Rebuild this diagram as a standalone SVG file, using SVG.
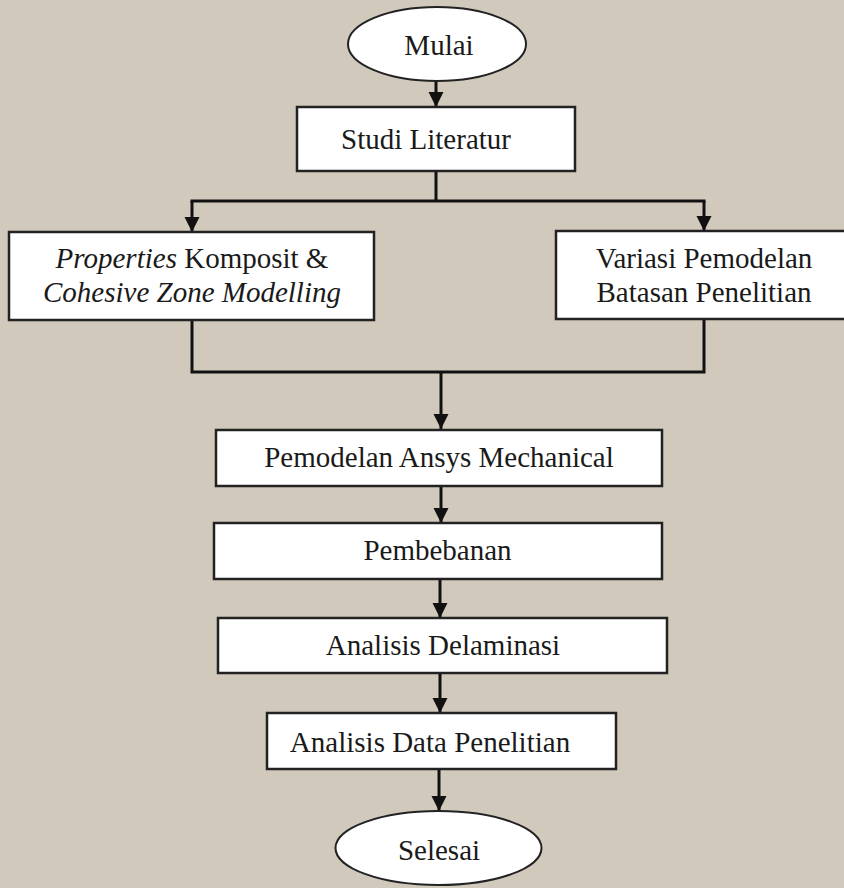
<svg xmlns="http://www.w3.org/2000/svg" width="844" height="888" viewBox="0 0 844 888">
  <defs>
    <marker id="arrow" markerUnits="userSpaceOnUse" markerWidth="16" markerHeight="16" refX="15" refY="7.5" orient="auto">
      <path d="M0,0 L15,7.5 L0,15 z" fill="#111"/>
    </marker>
    <style>
      .box { fill: #ffffff; stroke: #222; stroke-width: 2.5; }
      .term { fill: #ffffff; stroke: #222; stroke-width: 2; }
      .lbl { font-size: 29px; fill: #1a1a1a; text-anchor: middle; }
      .it { font-style: italic; }
      .wire { fill: none; stroke: #111; stroke-width: 3; }
      .arr { fill: none; stroke: #111; stroke-width: 3; marker-end: url(#arrow); }
    </style>
  </defs>

  <rect x="0" y="0" width="844" height="888" fill="#d1c9bc"/>

  <!-- connectors -->
  <g id="connectors">
    <path class="arr" d="M436,81 V107"/>
    <path class="wire" d="M436,171 V201"/>
    <path class="wire" d="M190.5,201 H705.5"/>
    <path class="arr" d="M192,201 V232"/>
    <path class="arr" d="M704,201 V231"/>
    <path class="wire" d="M192,320 V372 H704 V319"/>
    <path class="arr" d="M441,372 V429"/>
    <path class="arr" d="M441,486 V523"/>
    <path class="arr" d="M440,579 V618"/>
    <path class="arr" d="M440,673 V713"/>
    <path class="arr" d="M439,769 V811"/>
  </g>

  <g font-family="Liberation Serif, Times New Roman, serif">
    <g id="mulai">
      <ellipse class="term" cx="437" cy="44" rx="89" ry="37"/>
      <text class="lbl" x="439" y="55">Mulai</text>
    </g>

    <g id="studi-literatur">
      <rect class="box" x="297" y="107" width="278" height="64"/>
      <text class="lbl" x="426" y="149">Studi Literatur</text>
    </g>

    <g id="properties-komposit">
      <rect class="box" x="9" y="232" width="365" height="88"/>
      <text class="lbl" x="192" y="268"><tspan class="it">Properties</tspan> Komposit &amp;</text>
      <text class="lbl it" x="192" y="302">Cohesive Zone Modelling</text>
    </g>

    <g id="variasi-pemodelan">
      <rect class="box" x="556" y="231" width="300" height="88"/>
      <text class="lbl" x="704" y="268">Variasi Pemodelan</text>
      <text class="lbl" x="704" y="302">Batasan Penelitian</text>
    </g>

    <g id="pemodelan-ansys">
      <rect class="box" x="216" y="430" width="446" height="56"/>
      <text class="lbl" x="439" y="467">Pemodelan Ansys Mechanical</text>
    </g>

    <g id="pembebanan">
      <rect class="box" x="214" y="523" width="448" height="56"/>
      <text class="lbl" x="437.5" y="560">Pembebanan</text>
    </g>

    <g id="analisis-delaminasi">
      <rect class="box" x="218" y="618" width="449" height="55"/>
      <text class="lbl" x="443" y="655">Analisis Delaminasi</text>
    </g>

    <g id="analisis-data">
      <rect class="box" x="267" y="713" width="349" height="56"/>
      <text class="lbl" x="430" y="752">Analisis Data Penelitian</text>
    </g>

    <g id="selesai">
      <ellipse class="term" cx="438.5" cy="848" rx="103" ry="37"/>
      <text class="lbl" x="439" y="860">Selesai</text>
    </g>
  </g>
</svg>
